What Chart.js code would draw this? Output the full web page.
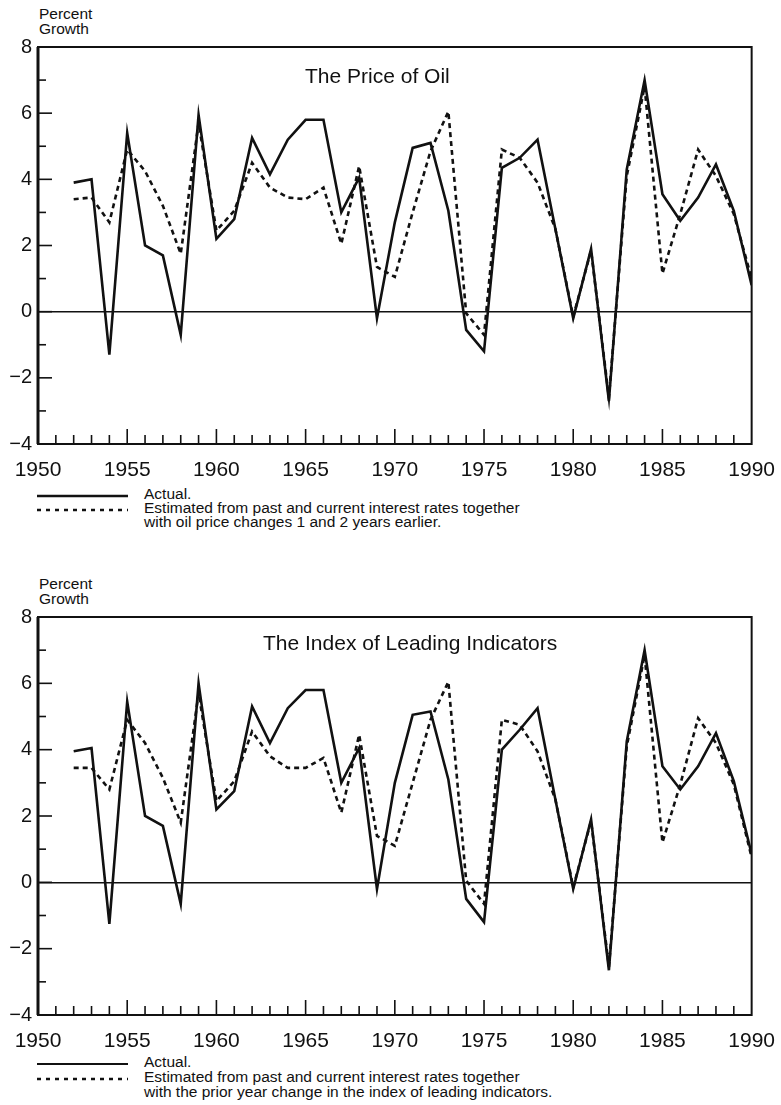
<!DOCTYPE html>
<html>
<head>
<meta charset="utf-8">
<script src="https://cdn.jsdelivr.net/npm/chart.js@4.4.1/dist/chart.umd.min.js"></script>
<style>
  body { margin: 0; background: #fff; }
  #page { position: relative; width: 781px; height: 1105px; font-family: "Liberation Sans", Arial, Helvetica, sans-serif; color: #111; }
  canvas { position: absolute; left: 0; }
  .txt { position: absolute; white-space: nowrap; }
  .unit { font-size: 15.5px; line-height: 15px; left: 39px; }
  .title { font-size: 21px; line-height: 21px; }
  .legend { font-size: 15.5px; left: 144px; }
  svg { position: absolute; left: 0; }
</style>
</head>
<body>
<div id="page">
  <div class="txt unit" style="top:6px">Percent<br>Growth</div>
  <canvas id="oilChart" width="781" height="480" style="top:0"></canvas>
  <div class="txt title" style="top:65px; left:305px">The Price of Oil</div>
  <svg width="140" height="20" style="top:488px">
    <line x1="37" y1="8" x2="128" y2="8" stroke="#111" stroke-width="2.5"/>
    <line x1="37" y1="22" x2="128" y2="22" stroke="#111" stroke-width="2.5" stroke-dasharray="4,5"/>
  </svg>
  <svg width="140" height="30" style="top:488px">
    <line x1="37" y1="22" x2="128" y2="22" stroke="#111" stroke-width="2.5" stroke-dasharray="4,5"/>
  </svg>
  <div class="txt legend" style="top:487px; line-height:14px">Actual.<br>Estimated from past and current interest rates together<br>with oil price changes 1 and 2 years earlier.</div>

  <div class="txt unit" style="top:576px">Percent<br>Growth</div>
  <canvas id="leadChart" width="781" height="480" style="top:570px"></canvas>
  <div class="txt title" style="top:632px; left:263px">The Index of Leading Indicators</div>
  <svg width="140" height="30" style="top:1056px">
    <line x1="37" y1="8" x2="128" y2="8" stroke="#111" stroke-width="1.8"/>
    <line x1="37" y1="23" x2="128" y2="23" stroke="#111" stroke-width="2.5" stroke-dasharray="4,5"/>
  </svg>
  <div class="txt legend" style="top:1054px; line-height:15px">Actual.<br>Estimated from past and current interest rates together<br>with the prior year change in the index of leading indicators.</div>
</div>
<script>
// years shown in both panels
var years = [1952, 1953, 1954, 1955, 1956, 1957, 1958, 1959, 1960, 1961,
  1962, 1963, 1964, 1965, 1966, 1967, 1968, 1969, 1970, 1971,
  1972, 1973, 1974, 1975, 1976, 1977, 1978, 1979, 1980, 1981,
  1982, 1983, 1984, 1985, 1986, 1987, 1988, 1989, 1990];

// top panel: price of oil
var oilActual = [3.9, 4.0, -1.3, 5.4, 2.0, 1.7, -0.7, 5.95, 2.2, 2.8,
  5.25, 4.15, 5.2, 5.8, 5.8, 3.0, 4.05, -0.2, 2.7, 4.95,
  5.1, 3.05, -0.55, -1.2, 4.35, 4.65, 5.2, 2.5, -0.2, 1.9,
  -2.7, 4.3, 7.0, 3.55, 2.75, 3.45, 4.45, 3.05, 0.8];
var oilEstimated = [3.4, 3.45, 2.7, 4.9, 4.25, 3.2, 1.75, 5.7, 2.45, 3.05,
  4.5, 3.75, 3.45, 3.4, 3.75, 2.05, 4.4, 1.35, 1.05, 3.0,
  4.85, 6.05, -0.05, -0.7, 4.9, 4.65, 3.9, 2.5, -0.15, 1.85,
  -2.6, 4.1, 6.8, 1.15, 2.95, 4.9, 4.1, 2.95, 1.0];

// bottom panel: index of leading indicators
var leadActual = [3.95, 4.05, -1.25, 5.45, 2.0, 1.7, -0.65, 6.0, 2.2, 2.75,
  5.3, 4.2, 5.25, 5.8, 5.8, 3.0, 4.05, -0.2, 3.0, 5.05,
  5.15, 3.1, -0.5, -1.2, 4.0, 4.6, 5.25, 2.5, -0.2, 1.9,
  -2.65, 4.25, 7.0, 3.5, 2.8, 3.5, 4.5, 3.05, 0.85];
var leadEstimated = [3.45, 3.45, 2.8, 4.9, 4.2, 3.15, 1.8, 5.7, 2.45, 3.05,
  4.55, 3.8, 3.45, 3.45, 3.75, 2.1, 4.45, 1.4, 1.1, 3.0,
  4.9, 6.05, 0.05, -0.65, 4.9, 4.75, 3.95, 2.5, -0.15, 1.85,
  -2.55, 4.1, 6.85, 1.2, 2.95, 4.95, 4.2, 2.95, 0.75];

var xTicks = [1950, 1955, 1960, 1965, 1970, 1975, 1980, 1985, 1990];
var yTicks = [-4, -2, 0, 2, 4, 6, 8];

var fontFamily = '"Liberation Sans", Arial, Helvetica, sans-serif';

function toPoints(values) {
  return years.map(function (yr, i) { return { x: yr, y: values[i] }; });
}

// box around the plot and the small inward tick marks
var framePlugin = {
  id: "frame",
  afterDraw: function (chart) {
    var ctx = chart.ctx;
    var a = chart.chartArea;
    var x = chart.scales.x;
    var y = chart.scales.y;
    ctx.save();
    ctx.strokeStyle = "#111";
    ctx.lineWidth = 1.6;
    for (var yr = x.min + 1; yr < x.max; yr++) {
      var px = x.getPixelForValue(yr);
      var len = yr % 5 === 0 ? 15 : 9;
      ctx.beginPath();
      ctx.moveTo(px, a.bottom);
      ctx.lineTo(px, a.bottom - len);
      ctx.stroke();
    }
    for (var v = y.min + 1; v < y.max; v++) {
      var py = y.getPixelForValue(v);
      var l = v % 2 === 0 ? 14 : 8;
      ctx.beginPath();
      ctx.moveTo(a.left, py);
      ctx.lineTo(a.left + l, py);
      ctx.stroke();
    }
    ctx.lineWidth = 2;
    ctx.strokeRect(a.left, a.top, a.right - a.left, a.bottom - a.top);
    ctx.lineWidth = 3;
    ctx.beginPath();
    ctx.moveTo(a.left, a.top);
    ctx.lineTo(a.left, a.bottom);
    ctx.stroke();
    ctx.restore();
  }
};

function makeChart(id, actual, estimated, xHeight) {
  return new Chart(document.getElementById(id), {
    type: "line",
    data: {
      datasets: [
        {
          label: "Actual",
          data: toPoints(actual),
          borderColor: "#111",
          borderWidth: 2.6,
          pointRadius: 0,
          tension: 0,
          fill: false
        },
        {
          label: "Estimated",
          data: toPoints(estimated),
          borderColor: "#111",
          borderWidth: 2.6,
          borderDash: [5, 4],
          pointRadius: 0,
          tension: 0,
          fill: false
        }
      ]
    },
    options: {
      responsive: false,
      animation: false,
      layout: { padding: { top: 47, right: 26, left: 0, bottom: 0 } },
      plugins: { legend: { display: false }, tooltip: { enabled: false } },
      scales: {
        x: {
          type: "linear",
          min: 1950,
          max: 1990,
          afterBuildTicks: function (scale) {
            scale.ticks = xTicks.map(function (v) { return { value: v }; });
          },
          afterFit: function (scale) { scale.height = xHeight; },
          ticks: {
            color: "#111",
            font: { family: fontFamily, size: 21 },
            padding: 6,
            maxRotation: 0,
            autoSkip: false,
            callback: function (v) { return String(v); }
          },
          grid: { display: false },
          border: { display: false }
        },
        y: {
          min: -4,
          max: 8,
          afterBuildTicks: function (scale) {
            scale.ticks = yTicks.map(function (v) { return { value: v }; });
          },
          afterFit: function (scale) { scale.width = 38; },
          ticks: {
            color: "#111",
            font: { family: fontFamily, size: 20 },
            padding: 6,
            callback: function (v) { return String(v).replace("-", "\u2212"); }
          },
          grid: {
            drawTicks: false,
            lineWidth: 1.4,
            color: function (c) { return c.tick && c.tick.value === 0 ? "#111" : "rgba(0,0,0,0)"; }
          },
          border: { display: false }
        }
      }
    },
    plugins: [framePlugin]
  });
}

makeChart("oilChart", oilActual, oilEstimated, 36);
makeChart("leadChart", leadActual, leadEstimated, 35);
</script>
</body>
</html>
